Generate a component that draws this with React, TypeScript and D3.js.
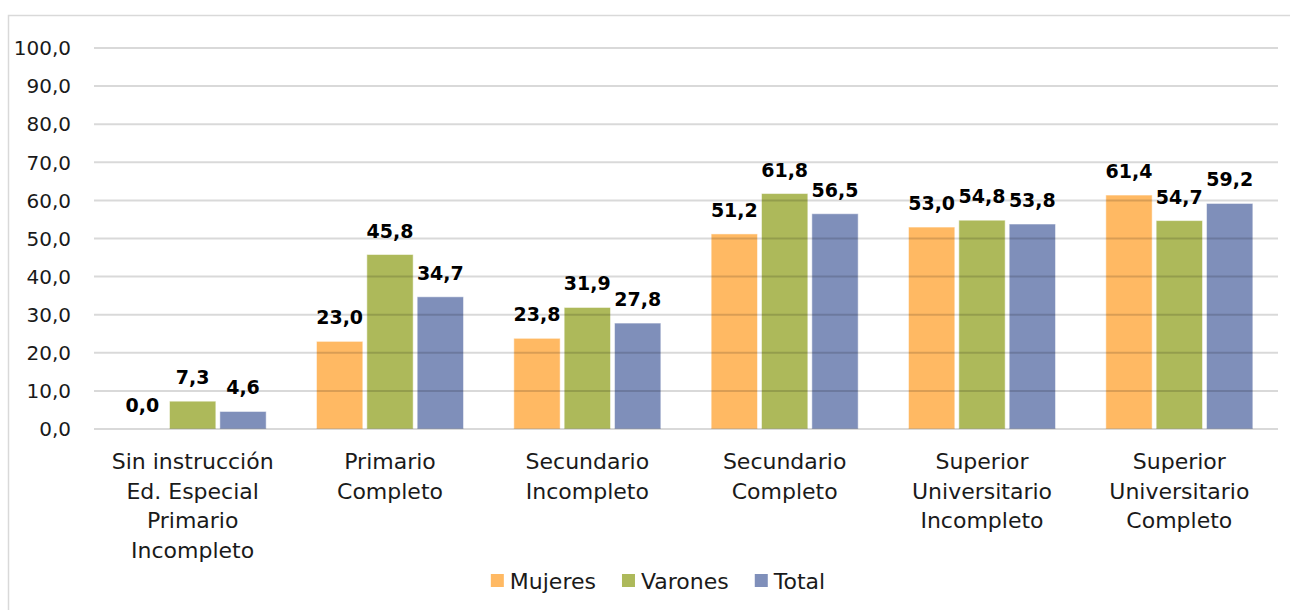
import React, { useEffect, useRef } from 'react';
import * as d3 from 'd3';

const categories: string[][] = [
  ['Sin instrucción', 'Ed. Especial', 'Primario', 'Incompleto'],
  ['Primario', 'Completo'],
  ['Secundario', 'Incompleto'],
  ['Secundario', 'Completo'],
  ['Superior', 'Universitario', 'Incompleto'],
  ['Superior', 'Universitario', 'Completo'],
];
const seriesNames = ['Mujeres', 'Varones', 'Total'];
const mujeres = [0.0, 23.0, 23.8, 51.2, 53.0, 61.4];
const varones = [7.3, 45.8, 31.9, 61.8, 54.8, 54.7];
const total = [4.6, 34.7, 27.8, 56.5, 53.8, 59.2];
const yTicks = [0, 10, 20, 30, 40, 50, 60, 70, 80, 90, 100];
const colors = ['#FFB963', '#ADB95A', '#7F8FBA'];

const W = 1290;
const H = 610;
const FONT = '"DejaVu Sans", sans-serif';

export default function App() {
  const svgRef = useRef<SVGSVGElement>(null);

  useEffect(() => {
    const svg = d3.select(svgRef.current);
    svg.selectAll('*').remove();
    const series = [mujeres, varones, total];
    const margin = { top: 48, left: 94, right: 12, bottom: 181 };
    const innerW = W - margin.left - margin.right;
    const innerH = H - margin.top - margin.bottom;

    // outer frame
    svg.append('rect')
      .attr('x', 8.5).attr('y', 15.5)
      .attr('width', W).attr('height', H)
      .attr('fill', '#fff').attr('stroke', '#d9d9d9').attr('stroke-width', 1.5);

    const x0 = d3.scaleBand<number>()
      .domain(d3.range(categories.length))
      .range([0, innerW])
      .paddingInner(0.255)
      .paddingOuter(0.1275);
    const x1 = d3.scaleBand<number>()
      .domain([0, 1, 2])
      .range([0, x0.bandwidth()])
      .paddingInner(0.08);
    const y = d3.scaleLinear().domain([0, 100]).range([innerH, 0]);

    const g = svg.append('g').attr('transform', `translate(${margin.left},${margin.top})`);

    // bars
    categories.forEach((_, ci) => {
      const cg = g.append('g').attr('transform', `translate(${x0(ci)},0)`);
      series.forEach((vals, si) => {
        const v = vals[ci];
        if (v > 0) {
          cg.append('rect')
            .attr('x', x1(si)!)
            .attr('y', y(v))
            .attr('width', x1.bandwidth())
            .attr('height', y(0) - y(v))
            .attr('fill', colors[si])
            .attr('stroke', '#ffffff')
            .attr('stroke-opacity', 0.5)
            .attr('stroke-width', 1);
        }
        cg.append('text')
          .attr('x', x1(si)! + x1.bandwidth() / 2)
          .attr('y', y(v) - 17)
          .attr('text-anchor', 'middle')
          .attr('font-family', FONT)
          .attr('font-weight', 'bold')
          .attr('font-size', 19)
          .attr('fill', '#000')
          .text(v.toFixed(1).replace('.', ','));
      });
    });

    // gridlines drawn over bars (semi-transparent like the original)
    g.append('g')
      .selectAll('line')
      .data(yTicks)
      .join('line')
      .attr('x1', 0)
      .attr('x2', innerW)
      .attr('y1', d => y(d))
      .attr('y2', d => y(d))
      .attr('stroke', '#000')
      .attr('stroke-opacity', 0.15)
      .attr('stroke-width', 2);

    // y labels
    g.append('g')
      .selectAll('text')
      .data(yTicks)
      .join('text')
      .attr('x', -23)
      .attr('y', d => y(d))
      .attr('dy', '0.36em')
      .attr('text-anchor', 'end')
      .attr('font-family', FONT)
      .attr('font-size', 20)
      .attr('fill', '#1a1a1a')
      .text(d => d.toFixed(1).replace('.', ','));

    // category labels
    categories.forEach((lines, ci) => {
      const t = g.append('text')
        .attr('text-anchor', 'middle')
        .attr('font-family', FONT)
        .attr('font-size', 22)
        .attr('fill', '#1a1a1a');
      lines.forEach((ln, li) => {
        t.append('tspan')
          .attr('x', x0(ci)! + x0.bandwidth() / 2)
          .attr('y', innerH + 40 + li * 29.5)
          .text(ln);
      });
    });

    // legend
    const lg = svg.append('g');
    const items: { node: SVGGElement; w: number }[] = [];
    seriesNames.forEach((name, i) => {
      const it = lg.append('g');
      it.append('rect')
        .attr('x', 0).attr('y', -7).attr('width', 13).attr('height', 13)
        .attr('fill', colors[i]);
      const tx = it.append('text')
        .attr('x', 19)
        .attr('y', 0)
        .attr('dy', '0.36em')
        .attr('font-family', FONT)
        .attr('font-size', 22)
        .attr('fill', '#1a1a1a')
        .text(name);
      const tw = (tx.node() as SVGTextElement).getComputedTextLength();
      items.push({ node: it.node() as SVGGElement, w: 19 + tw });
    });
    const gap = 26;
    const totalW = d3.sum(items, d => d.w) + gap * (items.length - 1);
    let cx = 658 - totalW / 2;
    items.forEach(it => {
      d3.select(it.node).attr('transform', `translate(${cx},581)`);
      cx += it.w + gap;
    });
  }, []);

  return (
    <svg
      ref={svgRef}
      width={W}
      height={H}
      style={{ position: 'absolute', left: 0, top: 0, background: '#fff' }}
    />
  );
}
